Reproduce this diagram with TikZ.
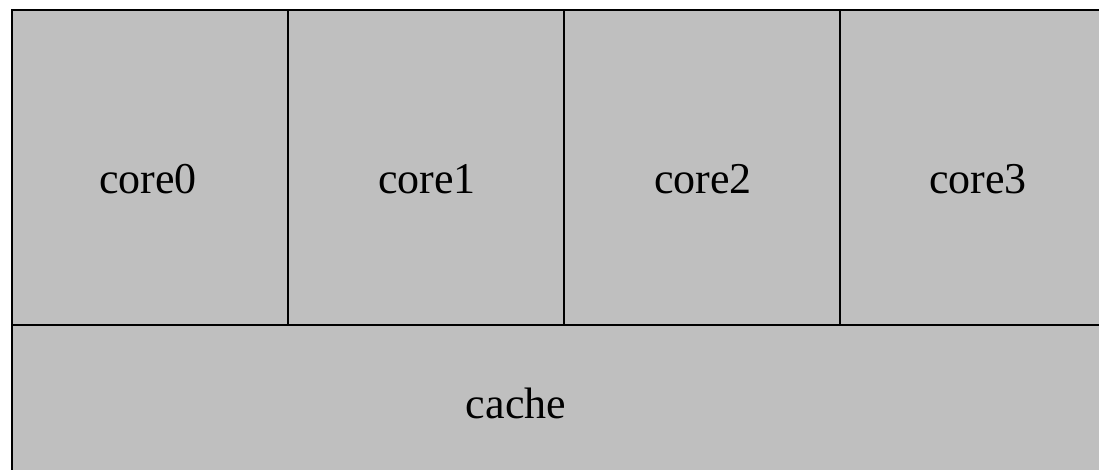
\documentclass[tikz,border=0pt]{standalone}
\usepackage{fontspec}
\setmainfont{Liberation Serif}
\begin{document}
\begin{tikzpicture}[x=1pt,y=-1pt,
  cell/.style={draw=black,fill=black!25,line width=2pt,inner sep=0pt,outer sep=0pt,anchor=north west},
  lbl/.style={font=\fontsize{44}{50}\selectfont,anchor=base,inner sep=0pt}]
\useasboundingbox (0,0) rectangle (1099,469);
\clip (0,0) rectangle (1099,469);
\fill[white] (0,0) rectangle (1099,469);
\node[cell,minimum width=276pt,minimum height=315pt] (c0) at (12,10) {};
\node[cell,minimum width=276pt,minimum height=315pt] (c1) at (288,10) {};
\node[cell,minimum width=276pt,minimum height=315pt] (c2) at (564,10) {};
\node[cell,minimum width=276pt,minimum height=315pt] (c3) at (840,10) {};
\node[cell,minimum width=1104pt,minimum height=300pt] (cache) at (12,325) {};
\node[lbl] (t0) at (148,193) {core0};
\node[lbl] (t1) at (427,193) {core1};
\node[lbl] (t2) at (703,193) {core2};
\node[lbl] (t3) at (978,193) {core3};
\node[lbl] (tc) at (516,418) {cache};
\end{tikzpicture}
\end{document}
